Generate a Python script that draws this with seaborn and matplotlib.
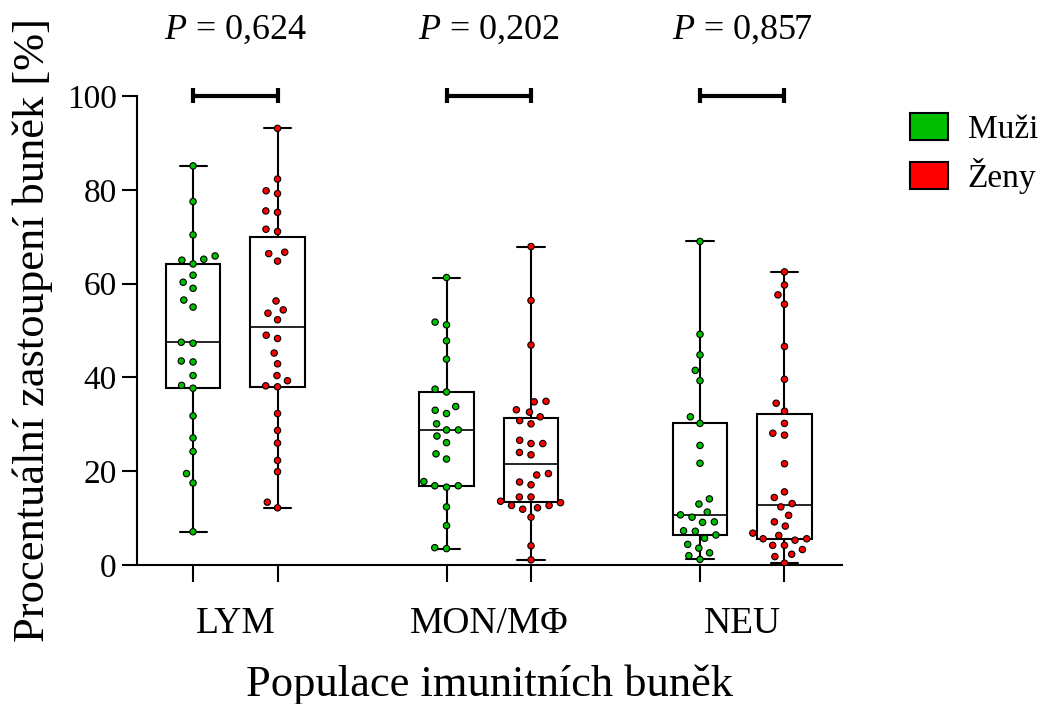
import matplotlib
matplotlib.use("Agg")
import matplotlib.pyplot as plt
from matplotlib.patches import Patch
import numpy as np
import seaborn as sns
import pandas as pd

# ---- data ----
groups = ["LYM", "MON/MΦ", "NEU"]
sexes = ["Muži", "Ženy"]
p_values = ["0,624", "0,202", "0,857"]

lym_m = [85.1, 77.5, 70.4, 65.9, 65.2, 65.0, 64.2, 61.8, 60.3, 59.0, 56.5, 55.0, 47.5,
         47.3, 43.5, 43.3, 40.4, 38.3, 37.7, 31.8, 27.1, 24.2, 19.5, 17.5, 7.1]
lym_z = [93.1, 82.3, 79.8, 79.2, 75.5, 75.2, 71.6, 71.1, 66.7, 66.4, 64.8, 56.3, 54.4,
         53.7, 52.3, 49.0, 48.3, 45.2, 42.9, 40.4, 39.3, 38.2, 38.0, 32.3, 28.7, 26.0,
         22.3, 19.9, 13.4, 12.2]
mon_m = [61.3, 51.8, 51.2, 47.8, 43.9, 37.5, 36.9, 33.8, 33.0, 32.3, 30.1, 28.8, 28.8,
         27.5, 26.1, 23.7, 22.6, 17.8, 16.9, 16.6, 16.9, 12.4, 8.4, 3.7, 3.5]
mon_z = [67.9, 56.4, 46.9, 34.9, 34.8, 33.1, 32.6, 31.6, 30.8, 30.1, 26.6, 25.9, 25.9,
         24.0, 23.5, 19.2, 19.5, 17.1, 17.7, 14.5, 14.5, 13.6, 12.7, 12.2, 13.3, 12.7,
         11.9, 10.2, 4.1, 1.1]
neu_m = [69.0, 49.2, 44.8, 41.5, 39.3, 31.6, 30.2, 25.5, 21.7, 14.1, 13.0, 11.3, 10.2,
         10.7, 9.1, 9.2, 7.3, 7.2, 5.7, 6.4, 4.4, 3.6, 2.6, 2.0, 1.2]
neu_z = [62.5, 59.7, 57.6, 55.6, 46.6, 39.6, 34.5, 32.8, 30.2, 27.7, 28.1, 21.6, 15.6,
         14.4, 13.1, 12.4, 10.6, 9.2, 8.3, 6.8, 6.3, 5.6, 5.6, 5.3, 4.2, 4.2, 3.3, 2.3,
         1.8, 0.4]

series = {("LYM", "Muži"): lym_m, ("LYM", "Ženy"): lym_z,
          ("MON/MΦ", "Muži"): mon_m, ("MON/MΦ", "Ženy"): mon_z,
          ("NEU", "Muži"): neu_m, ("NEU", "Ženy"): neu_z}

colors = {"Muži": "#00bf00", "Ženy": "#ff0000"}

rows = []
for (g, s), vals in series.items():
    for v in vals:
        rows.append({"cat": f"{g}|{s}", "sex": s, "val": v})
df = pd.DataFrame(rows)

# category order with empty spacer slots between groups
order = []
for i, g in enumerate(groups):
    order += [f"{g}|Muži", f"{g}|Ženy"]
    if i < len(groups) - 1:
        order.append(f"gap{i}")
palette = {c: colors[c.split("|")[1]] for c in order if "|" in c}

# ---- style ----
sns.set_style("ticks")
plt.rcParams["font.family"] = ["Liberation Serif", "DejaVu Serif"]
plt.rcParams["mathtext.fontset"] = "custom"
plt.rcParams["mathtext.rm"] = "Liberation Serif"
plt.rcParams["mathtext.it"] = "Liberation Serif:italic"
for k in ["text.color", "axes.labelcolor", "xtick.color", "ytick.color", "axes.edgecolor"]:
    plt.rcParams[k] = "black"

fig = plt.figure(figsize=(10.42, 7.04), dpi=100)
ax = fig.add_axes([0.1315, 0.1974, 0.8080 - 0.1315, 0.8636 - 0.1974])

sns.boxplot(data=df, x="cat", y="val", order=order, color="white", linecolor="black",
            width=0.64, whis=(0, 100), showfliers=False, linewidth=1.5,
            medianprops={"linewidth": 1.2}, ax=ax)
n_before = len(ax.collections)
sns.swarmplot(data=df, x="cat", y="val", order=order, hue="cat", palette=palette,
              size=4.6, edgecolor="black", linewidth=0.8, legend=False, ax=ax, zorder=4,
              warn_thresh=1.0)
# GraphPad-like looser swarm: let the beeswarm layout use a larger spacing radius
for coll in ax.collections[n_before:]:
    coll.get_sizes = (lambda s=np.array([7.3 ** 2]): s)

ax.set_ylim(0, 100)
ax.set_xlim(-0.663, 7.68)
ax.set_yticks([0, 20, 40, 60, 80, 100])
ax.tick_params(axis="y", labelsize=24, length=11, width=1.5, pad=3.6)

pos = [order.index(c) for c in order if "|" in c]
ax.set_xticks(pos)
ax.set_xticklabels([])
ax.tick_params(axis="x", which="major", length=12, width=1.5)
centers = [(order.index(f"{g}|Muži") + order.index(f"{g}|Ženy")) / 2 for g in groups]
ax.set_xticks(centers, minor=True)
ax.set_xticklabels(groups, minor=True, fontsize=27)
ax.tick_params(axis="x", which="minor", length=0, pad=30)

for side in ["top", "right"]:
    ax.spines[side].set_visible(False)
for side in ["left", "bottom"]:
    ax.spines[side].set_linewidth(1.5)

ax.set_xlabel("Populace imunitních buněk", fontsize=32, labelpad=17)
ax.set_ylabel("Procentuální zastoupení buněk [%]", fontsize=32, labelpad=10)

# significance brackets and P values
for g, p in zip(groups, p_values):
    x1 = order.index(f"{g}|Muži")
    x2 = order.index(f"{g}|Ženy")
    ax.plot([x1, x2], [100, 100], color="black", lw=3, solid_capstyle="butt", clip_on=False)
    for xx in (x1, x2):
        ax.plot([xx, xx], [98.5, 101.7], color="black", lw=3, solid_capstyle="butt",
                clip_on=False)
    ax.text((x1 + x2) / 2, 114, f"$P$ = {p}", ha="center", va="center", fontsize=26,
            clip_on=False)

handles = [Patch(facecolor=colors[s], edgecolor="black", linewidth=1.5, label=s)
           for s in sexes]
fig.legend(handles=handles, loc="upper left", bbox_to_anchor=(0.873, 0.839),
           frameon=False, fontsize=24, handlelength=1.14, handleheight=0.87,
           handletextpad=0.6, labelspacing=0.37, borderpad=0, borderaxespad=0)

fig.savefig("out.png", dpi=100)
